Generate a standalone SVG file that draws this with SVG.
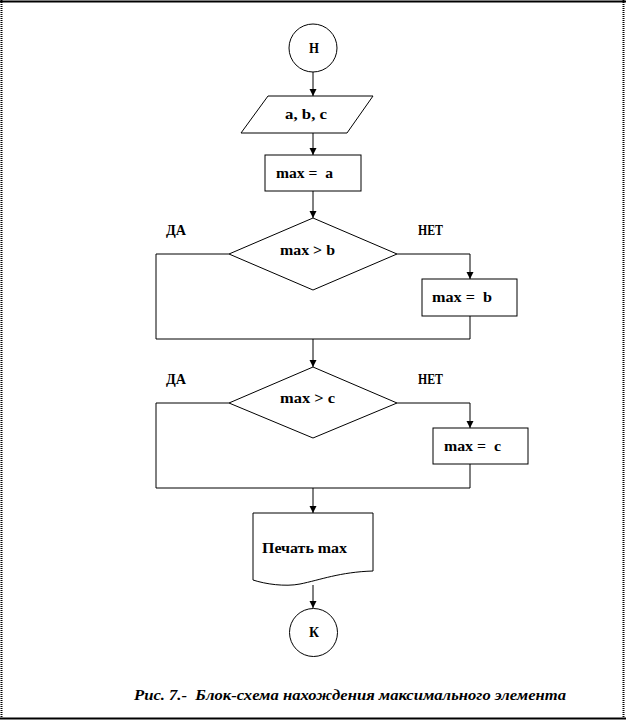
<svg xmlns="http://www.w3.org/2000/svg" width="626" height="722" viewBox="0 0 626 722">
<style>
.s{fill:#fff;stroke:#000;stroke-width:1}
.c{fill:none;stroke:#000;stroke-width:1}
.t{font-family:"Liberation Serif","DejaVu Serif","Times New Roman",serif;font-weight:900;font-size:14px;fill:#000}
.cap{font-family:"Liberation Serif","DejaVu Serif","Times New Roman",serif;font-weight:900;font-style:italic;font-size:15px;fill:#000}
</style>
<defs>
<marker id="ah" markerWidth="8" markerHeight="8" refX="7" refY="4" orient="auto" markerUnits="userSpaceOnUse">
<path d="M0,0.5 L7,4 L0,7.5 Z" fill="#000"/>
</marker>
</defs>
<rect width="626" height="722" fill="#fff"/>
<g id="border">
<line x1="0" y1="1.5" x2="626" y2="1.5" stroke="#000" stroke-width="2"/>
<line x1="0" y1="718.5" x2="626" y2="718.5" stroke="#000" stroke-width="2"/>
<line x1="1.5" y1="0" x2="1.5" y2="720" stroke="#000" stroke-width="2" stroke-dasharray="1,1"/>
<line x1="623.5" y1="0" x2="623.5" y2="720" stroke="#000" stroke-width="2" stroke-dasharray="1,1"/>
</g>
<g id="connectors">
<line class="c" x1="313" y1="72" x2="313" y2="96" marker-end="url(#ah)"/>
<line class="c" x1="313" y1="133" x2="313" y2="155" marker-end="url(#ah)"/>
<line class="c" x1="313" y1="191" x2="313" y2="218" marker-end="url(#ah)"/>
<polyline class="c" points="397,254 470,254 470,279" marker-end="url(#ah)"/>
<polyline class="c" points="229,254 156,254 156,339 470,339 470,316"/>
<line class="c" x1="313" y1="339" x2="313" y2="367" marker-end="url(#ah)"/>
<polyline class="c" points="397,403 470,403 470,428" marker-end="url(#ah)"/>
<polyline class="c" points="229,403 156,403 156,488 470,488 470,464"/>
<line class="c" x1="313" y1="488" x2="313" y2="513" marker-end="url(#ah)"/>
<line class="c" x1="313" y1="585" x2="313" y2="608" marker-end="url(#ah)"/>
</g>
<g id="start">
<circle class="s" cx="313" cy="48" r="24"/>
<text class="t" x="309" y="53" textLength="10" lengthAdjust="spacingAndGlyphs">Н</text>
</g>
<g id="input">
<polygon class="s" points="268,96 373,96 347,133 241,133"/>
<text class="t" x="285" y="119" textLength="42" lengthAdjust="spacingAndGlyphs">a, b, c</text>
</g>
<g id="assign-a">
<rect class="s" x="265" y="155" width="96" height="36"/>
<text class="t" x="276" y="178" xml:space="preserve" textLength="57" lengthAdjust="spacingAndGlyphs">max =  a</text>
</g>
<g id="cond-b">
<polygon class="s" points="313,218 397,254 313,290 229,254"/>
<text class="t" x="280" y="255" textLength="55" lengthAdjust="spacingAndGlyphs">max &gt; b</text>
</g>
<text class="t" x="166" y="235" textLength="20" lengthAdjust="spacingAndGlyphs">ДА</text>
<text class="t" x="418" y="235" textLength="25" lengthAdjust="spacingAndGlyphs">НЕТ</text>
<g id="assign-b">
<rect class="s" x="422" y="279" width="95" height="37"/>
<text class="t" x="432" y="302" xml:space="preserve" textLength="60" lengthAdjust="spacingAndGlyphs">max =  b</text>
</g>
<g id="cond-c">
<polygon class="s" points="313,367 397,403 313,438 229,403"/>
<text class="t" x="280" y="403" textLength="55" lengthAdjust="spacingAndGlyphs">max &gt; c</text>
</g>
<text class="t" x="166" y="384" textLength="20" lengthAdjust="spacingAndGlyphs">ДА</text>
<text class="t" x="418" y="384" textLength="25" lengthAdjust="spacingAndGlyphs">НЕТ</text>
<g id="assign-c">
<rect class="s" x="433" y="428" width="95" height="36"/>
<text class="t" x="444" y="451" xml:space="preserve" textLength="57" lengthAdjust="spacingAndGlyphs">max =  c</text>
</g>
<g id="print">
<path class="s" d="M253,513 H373 V571 C340,572 320,580 300,584 C285,587 265,584 253,580 Z"/>
<text class="t" x="262" y="553" textLength="85" lengthAdjust="spacingAndGlyphs">Печать max</text>
</g>
<g id="end">
<circle class="s" cx="313.5" cy="632.5" r="24"/>
<text class="t" x="309" y="637" textLength="10" lengthAdjust="spacingAndGlyphs">К</text>
</g>
<text class="cap" x="134" y="700" textLength="432" lengthAdjust="spacingAndGlyphs" xml:space="preserve">Рис. 7.-  Блок-схема нахождения максимального элемента</text>
</svg>
